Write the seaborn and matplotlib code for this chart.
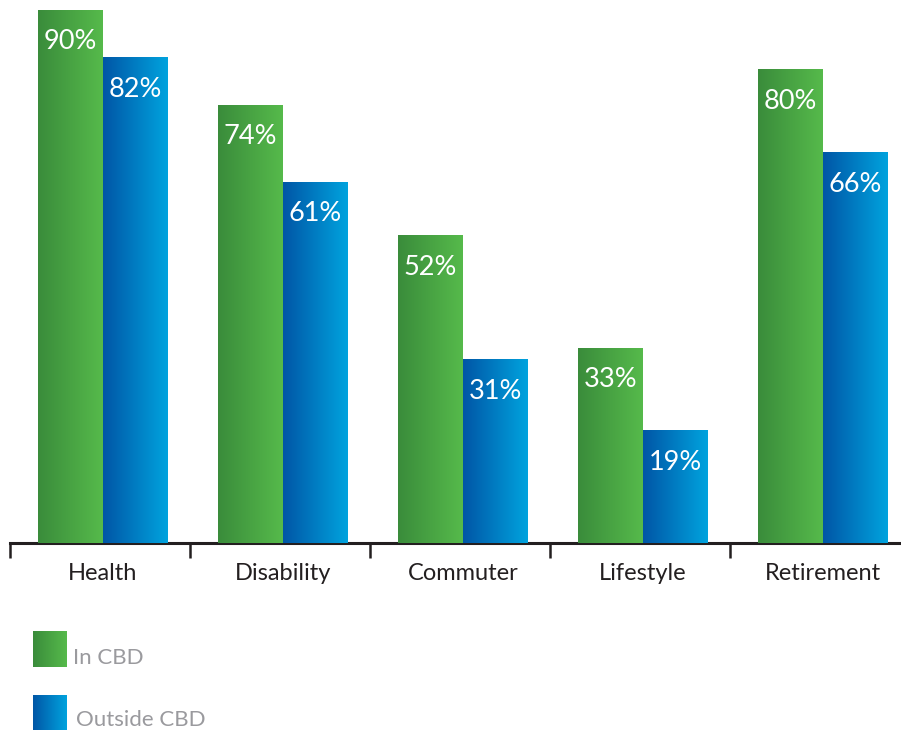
import numpy as np
import pandas as pd
import matplotlib
matplotlib.use("Agg")
import matplotlib.pyplot as plt
from matplotlib.colors import LinearSegmentedColormap
import seaborn as sns

categories = ["Health", "Disability", "Commuter", "Lifestyle", "Retirement"]
in_cbd = [90, 74, 52, 33, 80]
outside_cbd = [82, 61, 31, 19, 66]
series = ["In CBD", "Outside CBD"]

df = pd.DataFrame({
    "category": categories * 2,
    "value": in_cbd + outside_cbd,
    "group": [series[0]] * len(categories) + [series[1]] * len(categories),
})

sns.set_theme(style="white")
plt.rcParams["font.family"] = ["Lato", "DejaVu Sans"]

green_cmap = LinearSegmentedColormap.from_list("g", ["#3a8c3b", "#56ba4b"])
blue_cmap = LinearSegmentedColormap.from_list("b", ["#0056a6", "#00a3de"])
cmaps = {series[0]: green_cmap, series[1]: blue_cmap}

fig = plt.figure(figsize=(9.01, 7.34), dpi=100)
ax = fig.add_axes([10 / 901, (734 - 543) / 734, 1 - 10 / 901, 543 / 734])

sns.barplot(data=df, x="category", y="value", hue="group", order=categories,
            hue_order=series, palette=["#4aa546", "#0080c6"], width=0.72,
            dodge=True, legend=False, ax=ax, saturation=1, edgecolor="none")

shift = 3 / 180  # groups sit slightly right of each slot's centre
xlim = (-0.5 - shift, 4.45 - shift)
ylim = (0, 543 / 5.922)

grad = np.linspace(0, 1, 256).reshape(1, -1)
for container, name in zip(ax.containers, series):
    for patch, val in zip(container.patches, container.datavalues):
        x0, y0 = patch.get_x(), patch.get_y()
        w, h = patch.get_width(), patch.get_height()
        patch.set_facecolor("none")
        im = ax.imshow(grad, extent=[x0, x0 + w, y0, y0 + h], aspect="auto",
                       cmap=cmaps[name], origin="lower", zorder=2,
                       interpolation="bicubic")
        im.set_clip_path(patch)
        ax.text(x0 + w / 2, val - 5.4, f"{val:.0f}%", ha="center", va="center",
                color="white", fontsize=19.5, zorder=4)

ax.set_xlim(*xlim)
ax.set_ylim(*ylim)

for s in ["top", "right", "left"]:
    ax.spines[s].set_visible(False)
ax.spines["bottom"].set_color("#231f20")
ax.spines["bottom"].set_linewidth(2.2)
ax.spines["bottom"].set_zorder(1)
ax.set_yticks([])
ax.set_xlabel("")
ax.set_ylabel("")

# boundary ticks between categories
ax.set_xticks([i - 0.5 - shift for i in range(len(categories))])
ax.set_xticklabels([])
ax.tick_params(axis="x", bottom=True, length=10.5, width=1.8, color="#231f20",
               direction="out")
for i, cat in enumerate(categories):
    ax.text(i, -5.2, cat, ha="center", va="center", fontsize=17,
            color="#231f20", clip_on=False)

# legend
legend_items = [(series[0], green_cmap, 631, 667, 73, 658),
                (series[1], blue_cmap, 695, 730, 76, 720)]
for label, cmap, top, bottom, tx, ty in legend_items:
    lax = fig.add_axes([33 / 901, (734 - bottom) / 734, 34 / 901, (bottom - top) / 734])
    lax.imshow(grad, aspect="auto", cmap=cmap, extent=[0, 1, 0, 1])
    lax.axis("off")
    fig.text(tx / 901, 1 - ty / 734, label, ha="left", va="center",
             fontsize=16, color="#9a9a9e")

fig.savefig("out.png", dpi=100, facecolor="white")
